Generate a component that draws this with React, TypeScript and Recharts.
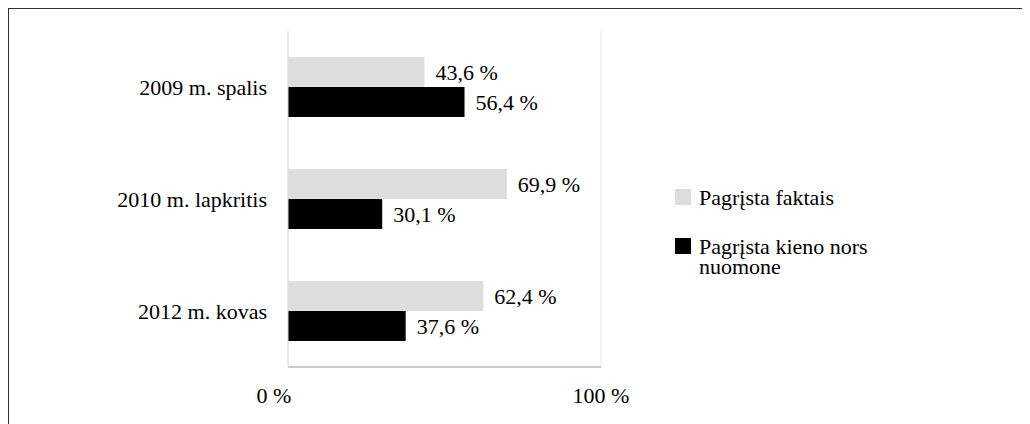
import React from "react";
import { BarChart, Bar, XAxis, YAxis, CartesianGrid, LabelList, Legend } from "recharts";

const categories = ["2009 m. spalis", "2010 m. lapkritis", "2012 m. kovas"];
const factsValues = [43.6, 69.9, 62.4];
const opinionValues = [56.4, 30.1, 37.6];
const xTicks = [0, 100];
const seriesNames = ["Pagrįsta faktais", "Pagrįsta kieno nors nuomone"];
const seriesColors = ["#dddddd", "#000000"];

const data = categories.map((name, i) => ({
  name,
  facts: factsValues[i],
  opinion: opinionValues[i],
}));

const FONT = "Liberation Serif, Times New Roman, Times, serif";

const fmt = (v: number) => `${v.toFixed(1).replace(".", ",")} %`;

function XTick(props: any) {
  const { x, y, payload } = props;
  const shift = payload.value === 0 ? -14 : 0;
  return (
    <text x={x + shift} y={y} dy="0.71em" textAnchor="middle" style={{ fontSize: 22, fontFamily: FONT, fill: "#000" }}>
      {`${payload.value} %`}
    </text>
  );
}

function LegendBox() {
  return (
    <div style={{ fontFamily: FONT, fontSize: 22, lineHeight: "20px", color: "#000" }}>
      {seriesNames.map((name, i) => (
        <div key={name} style={{ display: "flex", alignItems: "flex-start", marginBottom: 29 }}>
          <span
            style={{
              display: "inline-block",
              width: 16,
              height: 16,
              marginTop: 1,
              marginRight: 8,
              background: seriesColors[i],
              flex: "none",
            }}
          />
          <span style={{ width: 180 }}>{name}</span>
        </div>
      ))}
    </div>
  );
}

const textStyle = { fontSize: 22, fontFamily: FONT, fill: "#000" };

export default function App() {
  return (
    <div style={{ width: 1030, height: 424, border: "1px solid #333", background: "#fff", fontFamily: FONT }}>
      <BarChart
        width={1030}
        height={424}
        data={data}
        layout="vertical"
        margin={{ top: 22, right: 438, bottom: 26, left: 0 }}
        barGap={0}
        style={{ fontFamily: FONT }}
      >
        <CartesianGrid horizontal={false} stroke="#e6e6e6" />
        <XAxis
          type="number"
          domain={[0, 100]}
          ticks={xTicks}
          height={40}
          tickLine={false}
          tickSize={0}
          tickMargin={20}
          axisLine={{ stroke: "#999999" }}
          tick={<XTick />}
        />
        <YAxis
          type="category"
          dataKey="name"
          width={279}
          tickLine={false}
          tickSize={0}
          tickMargin={21}
          axisLine={{ stroke: "#e0e0e0" }}
          tick={textStyle}
        />
        <Legend
          layout="horizontal"
          verticalAlign="middle"
          align="center"
          content={<LegendBox />}
          wrapperStyle={{ left: 666, top: 179, width: 220 }}
        />
        <Bar dataKey="facts" name={seriesNames[0]} fill={seriesColors[0]} barSize={30} isAnimationActive={false}>
          <LabelList dataKey="facts" position="right" offset={11} formatter={(v: any) => fmt(Number(v))} style={textStyle} />
        </Bar>
        <Bar dataKey="opinion" name={seriesNames[1]} fill={seriesColors[1]} barSize={30} isAnimationActive={false}>
          <LabelList dataKey="opinion" position="right" offset={11} formatter={(v: any) => fmt(Number(v))} style={textStyle} />
        </Bar>
      </BarChart>
    </div>
  );
}
